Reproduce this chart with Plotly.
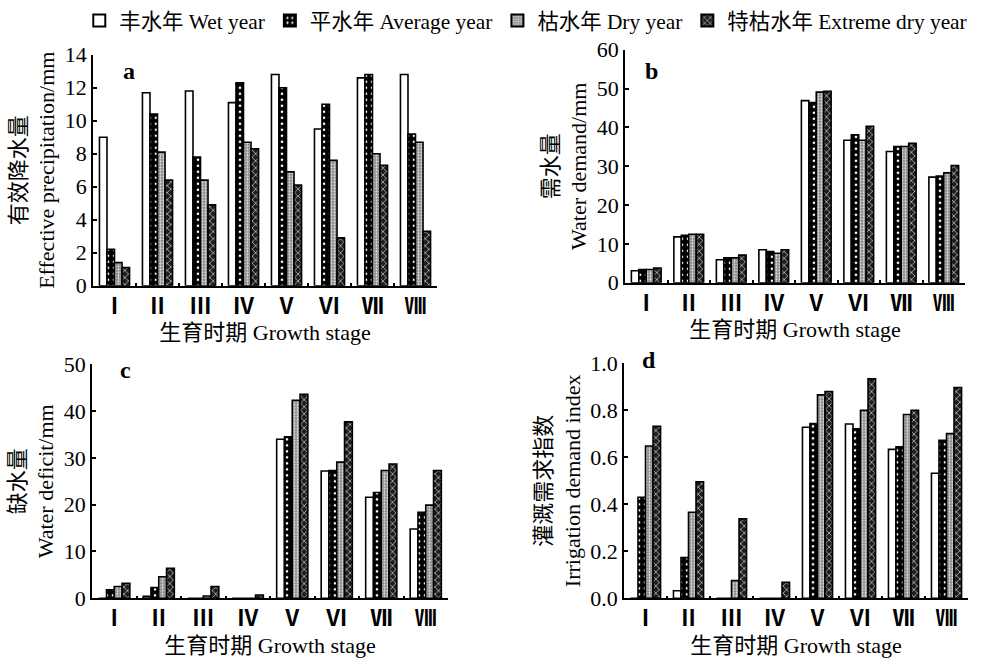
import plotly.graph_objects as go

# Growth stages and hydrological year types
stages = ["Ⅰ", "Ⅱ", "Ⅲ", "Ⅳ", "Ⅴ", "Ⅵ", "Ⅶ", "Ⅷ"]
year_types = ["丰水年 Wet year", "平水年 Average year",
              "枯水年 Dry year", "特枯水年 Extreme dry year"]

# a: effective precipitation (mm)
precip_wet = [9.0, 11.7, 11.8, 11.1, 12.8, 9.5, 12.6, 12.8]
precip_avg = [2.2, 10.4, 7.8, 12.3, 12.0, 11.0, 12.8, 9.2]
precip_dry = [1.4, 8.1, 6.4, 8.7, 6.9, 7.6, 8.0, 8.7]
precip_ext = [1.1, 6.4, 4.9, 8.3, 6.1, 2.9, 7.3, 3.3]

# b: water demand (mm)
demand_wet = [3.1, 11.8, 5.9, 8.5, 46.9, 36.7, 33.8, 27.2]
demand_avg = [3.4, 12.2, 6.4, 8.0, 46.4, 38.1, 35.1, 27.5]
demand_dry = [3.4, 12.5, 6.4, 7.6, 49.1, 36.7, 35.1, 28.3]
demand_ext = [3.8, 12.5, 7.1, 8.5, 49.3, 40.3, 35.9, 30.2]

# c: water deficit (mm)
deficit_wet = [0.0, 0.4, 0.0, 0.0, 34.0, 27.2, 21.6, 14.8]
deficit_avg = [1.8, 2.3, 0.0, 0.0, 34.5, 27.3, 22.6, 18.4]
deficit_dry = [2.5, 4.6, 0.5, 0.0, 42.3, 29.1, 27.3, 19.9]
deficit_ext = [3.2, 6.4, 2.5, 0.7, 43.6, 37.7, 28.7, 27.3]

# d: irrigation demand index
index_wet = [0.0, 0.032, 0.0, 0.0, 0.728, 0.742, 0.634, 0.532]
index_avg = [0.43, 0.173, 0.0, 0.0, 0.744, 0.721, 0.645, 0.672]
index_dry = [0.648, 0.366, 0.075, 0.0, 0.866, 0.800, 0.782, 0.701]
index_ext = [0.732, 0.496, 0.338, 0.068, 0.880, 0.934, 0.800, 0.897]

SERIF = "Liberation Serif, Noto Sans CJK SC"
NUMERALS = "Noto Sans CJK SC"

# fill style for each year type (white / black dotted / grey stipple / dark cross)
styles = [
    dict(color="white"),
    dict(color="black", pattern=dict(shape=".", fgcolor="white", bgcolor="black",
                                     size=6, solidity=0.16)),
    dict(color="#8a8a8a", pattern=dict(shape=".", fgcolor="#e8e8e8", bgcolor="#8a8a8a",
                                       size=3, solidity=0.35)),
    dict(color="#1e1e1e", pattern=dict(shape="x", fgcolor="#f0f0f0", bgcolor="#1e1e1e",
                                       size=5, solidity=0.22)),
]

panels = [
    ("x", "y", [precip_wet, precip_avg, precip_dry, precip_ext]),
    ("x2", "y2", [demand_wet, demand_avg, demand_dry, demand_ext]),
    ("x3", "y3", [deficit_wet, deficit_avg, deficit_dry, deficit_ext]),
    ("x4", "y4", [index_wet, index_avg, index_dry, index_ext]),
]

fig = go.Figure()
for p, (xa, ya, series) in enumerate(panels):
    for k, vals in enumerate(series):
        marker = dict(line=dict(color="black", width=1.6), **styles[k])
        fig.add_trace(go.Bar(
            x=stages, y=vals, xaxis=xa, yaxis=ya, name=year_types[k],
            marker=marker, showlegend=(p == 0), legendgroup=year_types[k],
        ))

W, H = 991, 658


def xdom(a, b):
    return [a / W, b / W]


def ydom(top, bottom):
    return [1 - bottom / H, 1 - top / H]


def x_axis(domain, anchor):
    return dict(
        domain=domain, anchor=anchor, type="category",
        showline=True, linecolor="black", linewidth=1.5,
        ticks="inside", ticklen=3, tickwidth=1.5, tickcolor="black",
        tickson="boundaries", showgrid=False, zeroline=False, tickangle=0,
        tickfont=dict(family=NUMERALS, size=22, color="black", weight="bold"),
        title=dict(text="生育时期 Growth stage", standoff=6,
                   font=dict(family=SERIF, size=22, color="black")),
        automargin=False,
    )


def y_axis(domain, anchor, rng, dtick, title, fmt=None):
    d = dict(
        domain=domain, anchor=anchor, range=rng, dtick=dtick,
        showline=True, linecolor="black", linewidth=1.5,
        ticks="inside", ticklen=4, tickwidth=1.5, tickcolor="black",
        showgrid=False, zeroline=False,
        tickfont=dict(family=SERIF, size=22, color="black"),
        title=dict(text=title, standoff=4,
                   font=dict(family=SERIF, size=22, color="black")),
        automargin=False,
    )
    if fmt:
        d["tickformat"] = fmt
    return d


fig.update_layout(
    template="none",
    width=W, height=H,
    margin=dict(l=0, r=0, t=0, b=0),
    paper_bgcolor="white", plot_bgcolor="white",
    barmode="group", bargap=0.3, bargroupgap=0.0,
    font=dict(family=SERIF, color="black"),
    xaxis=x_axis(xdom(93, 437), "y"),
    yaxis=y_axis(ydom(52, 284), "x", [0, 14], 2,
                 "有效降水量<br>Effective precipitation/mm"),
    xaxis2=x_axis(xdom(625, 965), "y2"),
    yaxis2=y_axis(ydom(47, 281), "x2", [0, 60], 10, "需水量<br>Water demand/mm"),
    xaxis3=x_axis(xdom(92, 448), "y3"),
    yaxis3=y_axis(ydom(363, 598), "x3", [0, 50], 10, "缺水量<br>Water deficit/mm"),
    xaxis4=x_axis(xdom(624, 968), "y4"),
    yaxis4=y_axis(ydom(362, 598), "x4", [0, 1.0], 0.2,
                  "灌溉需求指数<br>Irrigation demand index", ".1f"),
    legend=dict(orientation="h", x=0.08, xanchor="left", y=1.005, yanchor="top",
                font=dict(family=SERIF, size=21.4, color="black"),
                bgcolor="rgba(0,0,0,0)", traceorder="normal",
                itemsizing="constant"),
)

# panel letters
for letter, px, py in [("a", 121, 53), ("b", 651, 53), ("c", 118, 369), ("d", 649, 359)]:
    fig.add_annotation(text=f"<b>{letter}</b>", x=px / W, y=1 - py / H,
                       xref="paper", yref="paper", showarrow=False,
                       font=dict(family=SERIF, size=24, color="black"))

fig.write_html("out.html")
